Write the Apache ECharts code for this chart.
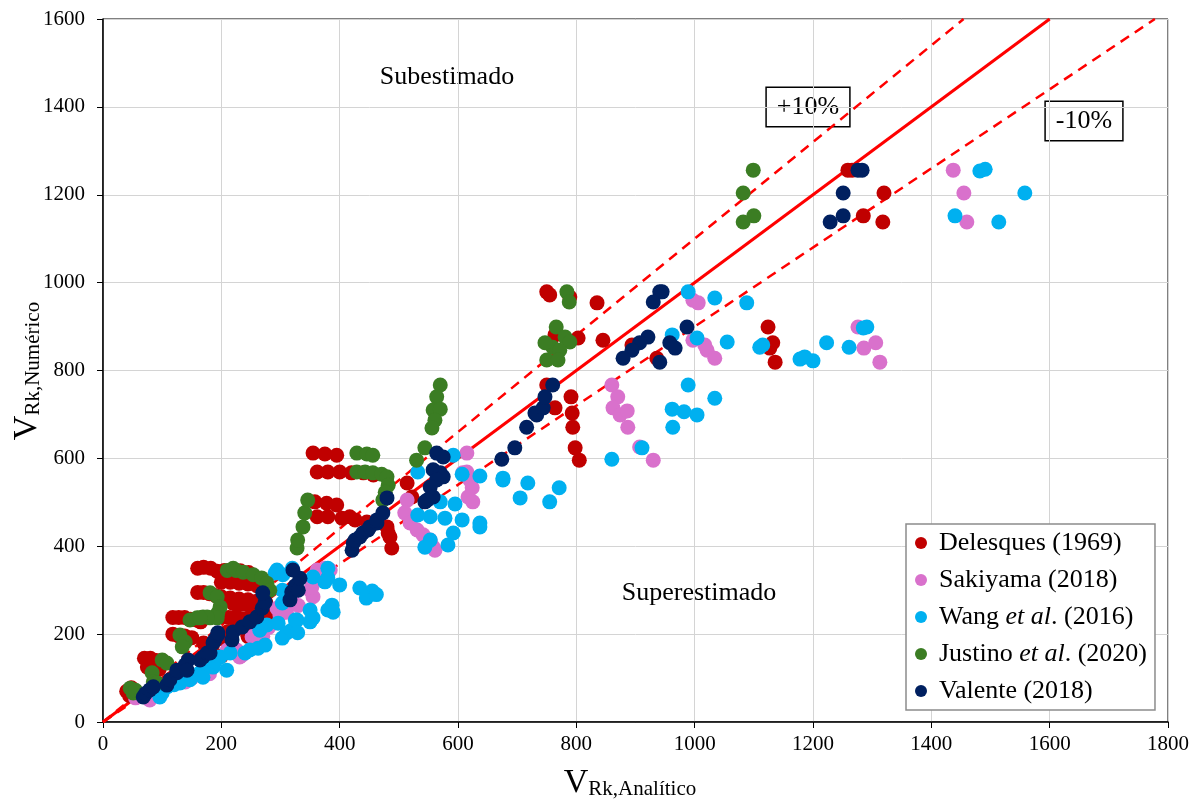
<!DOCTYPE html>
<html>
<head>
<meta charset="utf-8">
<script src="https://cdn.jsdelivr.net/npm/echarts@6/dist/echarts.min.js"></script>
<style>
  html, body { margin: 0; padding: 0; background: #fff; }
  #chart { width: 1200px; height: 805px; }
</style>
</head>
<body>
<div id="chart"></div>
<script>
// [V_Rk,Analitico, V_Rk,Numerico]
var delesques = [
  [40,70],[48,78],[55,66],[45,60],
  [70,145],[80,145],[90,140],[100,140],[75,125],[85,122],[95,120],
  [118,238],[128,238],[138,238],[148,234],[158,232],[165,228],
  [118,200],[128,196],[138,196],[150,192],
  [160,295],[170,295],[180,292],[190,288],[200,285],[215,282],[230,280],[245,278],[260,275],[275,272],
  [160,350],[170,352],[182,350],[193,343],[205,345],[218,346],[232,344],[246,340],
  [200,318],[215,318],[230,316],[245,314],[260,310],[275,305],
  [200,240],[212,238],[225,240],[240,235],[255,232],
  [170,180],[185,175],[198,190],[210,205],[225,215],[240,210],
  [220,270],[235,268],[250,262],[265,258],[280,250],
  [200,150],[215,165],[245,195],[258,200],[270,210],[285,230],
  [355,612],[375,610],[395,607],
  [362,569],[380,569],[400,569],[420,567],[440,567],[457,562],
  [358,501],[378,498],[395,494],
  [362,467],[380,467],[404,464],[417,467],[426,460],[446,455],
  [480,444],[482,430],[485,421],[488,396],
  [514,544],[522,512],
  [750,979],[755,972],[789,967],[835,954],[764,881],[803,874],[845,869],[894,858],[936,828],
  [750,767],[764,715],[791,740],[793,703],[794,671],[798,624],[805,596],
  [1124,899],[1132,863],[1127,851],[1136,819],
  [1259,1256],[1266,1256],[1320,1204],[1285,1152],[1318,1138]
];
var sakiyama = [
  [55,55],[62,58],[79,50],[100,80],[139,91],[150,100],[180,110],
  [210,164],[218,171],[226,164],[235,152],[231,148],[252,194],[260,203],[270,195],[280,215],
  [294,259],[304,255],[299,244],[310,250],[320,290],[330,265],
  [350,300],[355,285],[353,307],[355,323],[362,346],[375,350],[384,346],
  [514,505],[510,476],[519,453],[531,437],[541,426],[553,414],[558,398],[561,391],
  [615,612],[608,567],[615,569],[620,551],[624,533],[617,512],[625,501],
  [997,960],[1006,954],[997,869],[1017,858],[1021,846],[1034,828],
  [860,767],[870,740],[862,715],[874,699],[886,708],[887,671],[907,626],[930,596],
  [1276,899],[1286,851],[1306,863],[1313,819],
  [1437,1256],[1455,1204],[1460,1138]
];
var wang = [
  [96,57],[100,66],[108,80],[120,85],[130,89],[147,96],[164,112],[169,118],[169,102],
  [186,125],[189,137],[198,148],[209,118],[215,157],[240,157],[248,164],[262,168],[274,175],
  [265,209],[277,221],[296,225],[303,191],[311,203],[319,209],[325,232],[328,232],[329,203],
  [303,271],[303,300],[291,339],[304,335],[294,346],[320,350],
  [355,330],[375,319],[380,328],[380,350],[400,312],[387,266],[380,255],[389,250],
  [355,237],[350,228],[350,255],[434,305],[455,298],[445,282],[462,290],
  [532,569],[592,607],[607,564],[637,560],[676,555],[676,551],[718,544],[705,510],
  [755,501],[771,533],[570,501],[595,496],[532,471],[553,467],[578,464],[607,460],
  [637,453],[637,444],[592,430],[553,414],[544,398],[583,403],
  [989,979],[1034,965],[1088,954],[962,881],[1004,874],[1055,865],[1110,853],[1115,858],
  [1178,826],[1186,831],[1200,822],[1223,863],[1261,853],[1285,897],[1291,899],
  [989,767],[1034,737],[962,712],[982,706],[1004,699],[963,671],[911,624],[860,598],
  [1440,1152],[1482,1254],[1491,1258],[1558,1204],[1514,1138]
];
var justino = [
  [46,77],[51,66],[55,72],[83,112],[85,91],[91,89],[100,141],[108,134],
  [130,198],[139,182],[134,171],[147,232],[159,237],[169,239],[181,237],
  [181,294],[193,285],[198,262],[194,248],[193,237],[176,239],[164,237],
  [210,345],[220,350],[225,345],[237,341],[254,335],[268,328],[277,316],[282,300],
  [328,396],[329,414],[338,444],[341,476],[346,505],
  [429,612],[446,610],[456,607],[429,569],[443,569],[456,567],[471,564],[480,558],
  [482,539],[477,523],[473,505],[544,624],[530,596],
  [570,767],[564,740],[558,710],[570,712],[561,687],[556,669],
  [784,979],[788,956],[766,899],[781,876],[789,865],[760,853],[772,846],[747,863],[750,824],[769,824],
  [1099,1256],[1082,1204],[1100,1152],[1082,1138]
];
var valente = [
  [68,57],[72,65],[79,73],[85,80],[108,84],[113,96],[125,112],[125,118],[139,130],[144,141],[142,118],
  [164,141],[169,148],[176,157],[181,157],[186,180],[189,187],[194,198],[194,203],
  [218,187],[220,205],[235,216],[248,228],[260,239],[269,259],[274,273],[270,294],
  [316,278],[319,296],[325,310],[330,300],[333,327],[321,346],
  [421,391],[423,407],[426,414],[434,421],[439,430],[448,437],[451,444],[463,453],[463,460],
  [473,476],[480,510],
  [564,612],[575,603],[558,574],[570,567],[575,558],[564,551],[553,535],[558,512],[544,501],[548,505],
  [674,598],[696,624],[716,671],[730,703],[733,699],[744,715],[747,740],[760,767],
  [941,979],[945,979],[930,956],[987,899],[921,876],[907,863],[894,846],[879,828],
  [958,863],[967,851],[941,819],
  [1276,1256],[1283,1256],[1251,1204],[1251,1152],[1229,1138]
];
var identityLine = [[0,0],[1600,1600]];
var plus10Line = [[0,0],[1454.5,1600]];
var minus10Line = [[0,0],[1777.8,1600]];

var seriesNames = ['Delesques (1969)', 'Sakiyama (2018)', 'Wang et al. (2016)', 'Justino et al. (2020)', 'Valente (2018)'];
var seriesData = [delesques, sakiyama, wang, justino, valente];
var seriesColors = ['#C00000', '#D971CC', '#00B0F0', '#3B7D23', '#002060'];

var chart = echarts.init(document.getElementById('chart'), null, { renderer: 'canvas' });

var FONT = "'Liberation Serif', 'Times New Roman', serif";

var series = [
  {
    type: 'line', data: identityLine, symbol: 'none', silent: true, z: 1,
    lineStyle: { color: '#FF0000', width: 3 }
  },
  {
    type: 'line', data: plus10Line, symbol: 'none', silent: true, z: 1,
    lineStyle: { color: '#FF0000', width: 2.5, type: [10, 7] }
  },
  {
    type: 'line', data: minus10Line, symbol: 'none', silent: true, z: 1,
    lineStyle: { color: '#FF0000', width: 2.5, type: [10, 7] }
  }
];
for (var i = 0; i < seriesNames.length; i++) {
  series.push({
    name: seriesNames[i],
    type: 'scatter',
    symbol: 'circle',
    symbolSize: 15,
    z: 2,
    data: seriesData[i],
    itemStyle: { color: seriesColors[i], opacity: 1 }
  });
}

var option = {
  animation: false,
  backgroundColor: '#fff',
  grid: {
    left: 103, right: 32, top: 19, bottom: 83,
    show: true, borderColor: '#000', borderWidth: 1
  },
  xAxis: {
    type: 'value', min: 0, max: 1800, interval: 200,
    axisLine: { show: true, lineStyle: { color: '#000', width: 1.5 } },
    axisTick: { show: true, length: 6, lineStyle: { color: '#000' } },
    axisLabel: { color: '#000', fontFamily: FONT, fontSize: 21, margin: 12, formatter: function (v) { return String(v); } },
    splitLine: { show: true, lineStyle: { color: '#d4d4d4', width: 1 } }
  },
  yAxis: {
    type: 'value', min: 0, max: 1600, interval: 200,
    axisLine: { show: true, lineStyle: { color: '#000', width: 1.5 } },
    axisTick: { show: true, length: 6, lineStyle: { color: '#000' } },
    axisLabel: { color: '#000', fontFamily: FONT, fontSize: 21, margin: 18, formatter: function (v) { return String(v); } },
    splitLine: { show: true, lineStyle: { color: '#d4d4d4', width: 1 } }
  },
  legend: {
    data: seriesNames,
    orient: 'vertical',
    left: 906, top: 524,
    padding: [4, 8, 4, 9],
    itemGap: 7,
    itemWidth: 12, itemHeight: 12,
    icon: 'circle',
    backgroundColor: '#fff',
    borderColor: '#8c8c8c',
    borderWidth: 1.5,
    borderRadius: 0,
    textStyle: {
      fontFamily: FONT, fontSize: 26, color: '#000', lineHeight: 30, padding: [0, 0, 0, 7],
      rich: {
        n: { fontFamily: FONT, fontSize: 26, color: '#000' },
        i: { fontFamily: FONT, fontSize: 26, color: '#000', fontStyle: 'italic' }
      }
    },
    formatter: function (name) {
      var k = name.indexOf('et al');
      if (k < 0) return '{n|' + name + '}';
      return '{n|' + name.slice(0, k) + '}{i|et al}{n|' + name.slice(k + 5) + '}';
    }
  },
  graphic: [
    {
      type: 'text', x: 447, y: 77,
      style: { text: 'Subestimado', font: '26px ' + FONT, fill: '#000', align: 'center', verticalAlign: 'middle' }
    },
    {
      type: 'text', x: 699, y: 593,
      style: { text: 'Superestimado', font: '26px ' + FONT, fill: '#000', align: 'center', verticalAlign: 'middle' }
    },
    {
      type: 'text', x: 808, y: 107,
      style: {
        text: '+10%', font: '26px ' + FONT, fill: '#000', align: 'center', verticalAlign: 'middle',
        backgroundColor: '#fff', borderColor: '#000', borderWidth: 1.5, padding: [7, 10, 5, 10]
      }
    },
    {
      type: 'text', x: 1084, y: 121,
      style: {
        text: '-10%', font: '26px ' + FONT, fill: '#000', align: 'center', verticalAlign: 'middle',
        backgroundColor: '#fff', borderColor: '#000', borderWidth: 1.5, padding: [7, 10, 5, 10]
      }
    },
    {
      type: 'text', x: 630, y: 783,
      style: {
        text: '{v|V}{s|Rk,Analítico}', align: 'center', verticalAlign: 'middle',
        rich: {
          v: { fontFamily: FONT, fontSize: 34, fill: '#000', verticalAlign: 'top', lineHeight: 34 },
          s: { fontFamily: FONT, fontSize: 21, fill: '#000', verticalAlign: 'bottom', lineHeight: 21, padding: [20, 0, 0, 0] }
        }
      }
    },
    {
      type: 'text', x: 27, y: 371, rotation: Math.PI / 2,
      style: {
        text: '{v|V}{s|Rk,Numérico}', align: 'center', verticalAlign: 'middle',
        rich: {
          v: { fontFamily: FONT, fontSize: 34, fill: '#000', verticalAlign: 'top', lineHeight: 34 },
          s: { fontFamily: FONT, fontSize: 21, fill: '#000', verticalAlign: 'bottom', lineHeight: 21, padding: [20, 0, 0, 0] }
        }
      }
    }
  ],
  series: series
};

chart.setOption(option);
</script>
</body>
</html>
